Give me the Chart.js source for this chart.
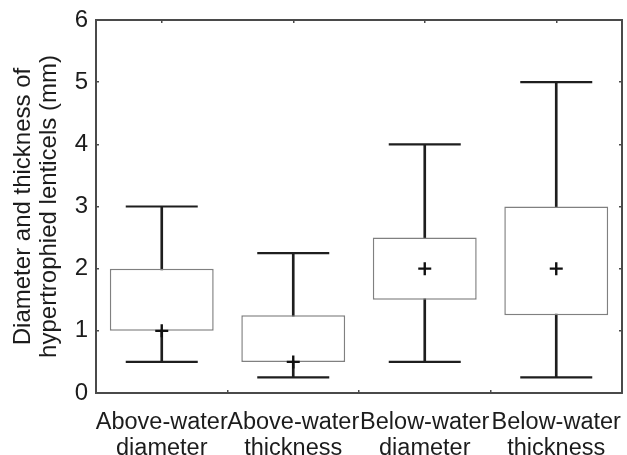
<!DOCTYPE html>
<html>
<head>
<meta charset="utf-8">
<script src="https://cdn.jsdelivr.net/npm/chart.js@4.4.1/dist/chart.umd.min.js"></script>
<style>
  html, body { margin: 0; padding: 0; background: #fff; }
  #wrap { width: 627px; height: 455px; position: relative; }
</style>
</head>
<body>
<div id="wrap"><canvas id="c" width="627" height="455"></canvas></div>
<script>
const categories = [
  ["Above-water", "diameter"],
  ["Above-water", "thickness"],
  ["Below-water", "diameter"],
  ["Below-water", "thickness"]
];
const whiskerMin = [0.5, 0.25, 0.5, 0.25];
const boxLow = [1.0, 0.5, 1.5, 1.25];
const boxHigh = [2.0, 1.25, 2.5, 3.0];
const whiskerMax = [3.0, 2.25, 4.0, 5.0];
const centerMark = [1.0, 0.5, 2.0, 2.0];
const yTicks = [0, 1, 2, 3, 4, 5, 6];
const yTitle = ["Diameter and thickness of", "hypertrophied lenticels (mm)"];

const boxes = boxLow.map((v, i) => [v, boxHigh[i]]);
const whiskers = whiskerMin.map((v, i) => [v, whiskerMax[i]]);

const textColor = '#1c1c1c';
const frameColor = '#4a4a4a';
const fontFam = '"Liberation Sans", Arial, sans-serif';

// Point-only line controller that does not reserve extra layout padding for large markers
class MarkController extends Chart.LineController {
  getMaxOverflow() { return 0; }
}
MarkController.id = 'mark';
MarkController.defaults = Chart.LineController.defaults;
MarkController.overrides = Chart.LineController.overrides;
Chart.register(MarkController);

function fixSize(prop, val) {
  return s => {
    s[prop] = val;
    s.paddingLeft = 0; s.paddingRight = 0; s.paddingTop = 0; s.paddingBottom = 0;
  };
}

new Chart(document.getElementById('c'), {
  data: {
    labels: categories,
    datasets: [
      {
        type: 'bar', data: whiskers, order: 3, grouped: false,
        backgroundColor: '#1e1e1e', borderWidth: 0, barThickness: 2
      },
      {
        type: 'bar', data: boxes, order: 2, grouped: false,
        backgroundColor: '#ffffff', borderColor: '#808080', borderWidth: 1.5,
        borderSkipped: false, barPercentage: 0.79, categoryPercentage: 1
      },
      {
        type: 'mark', data: whiskerMin, order: 1, showLine: false,
        pointStyle: 'line', pointRadius: 36, pointBorderWidth: 2.2,
        pointBorderColor: '#1e1e1e', pointBackgroundColor: '#1e1e1e'
      },
      {
        type: 'mark', data: whiskerMax, order: 1, showLine: false,
        pointStyle: 'line', pointRadius: 36, pointBorderWidth: 2.2,
        pointBorderColor: '#1e1e1e', pointBackgroundColor: '#1e1e1e'
      },
      {
        type: 'mark', data: centerMark, order: 0, showLine: false,
        pointStyle: 'cross', pointRadius: 6.5, pointBorderWidth: 2.4,
        pointBorderColor: '#111', pointBackgroundColor: '#111'
      }
    ]
  },
  options: {
    responsive: false,
    animation: false,
    events: [],
    layout: { padding: 0 },
    plugins: { legend: { display: false }, tooltip: { enabled: false } },
    scales: {
      x: {
        position: 'bottom',
        offset: true,
        grid: { display: true, drawOnChartArea: false, drawTicks: true, tickLength: -3, color: frameColor, lineWidth: 1.5 },
        border: { display: true, color: frameColor, width: 2 },
        ticks: { color: textColor, font: { family: fontFam, size: 23.5, lineHeight: 1.13 }, padding: 19, maxRotation: 0, autoSkip: false },
        afterFit: fixSize('height', 62)
      },
      x2: {
        position: 'top',
        offset: true,
        labels: categories,
        grid: { display: true, drawOnChartArea: false, drawTicks: true, tickLength: -3, color: frameColor, lineWidth: 1.5 },
        border: { display: true, color: frameColor, width: 2 },
        ticks: { display: false },
        afterFit: fixSize('height', 20)
      },
      y: {
        position: 'left',
        min: 0, max: 6,
        afterBuildTicks: s => { s.ticks = yTicks.map(v => ({ value: v })); },
        grid: { display: true, drawOnChartArea: false, drawTicks: true, tickLength: -3, color: frameColor, lineWidth: 1.5 },
        border: { display: true, color: frameColor, width: 2 },
        ticks: { color: textColor, font: { family: fontFam, size: 24 }, padding: 11 },
        title: { display: true, text: yTitle, color: textColor, font: { family: fontFam, size: 24, lineHeight: 1.1 }, padding: { top: 10, bottom: 0 } },
        afterFit: fixSize('width', 96)
      },
      y2: {
        position: 'right',
        min: 0, max: 6,
        afterBuildTicks: s => { s.ticks = yTicks.map(v => ({ value: v })); },
        grid: { display: true, drawOnChartArea: false, drawTicks: true, tickLength: -3, color: frameColor, lineWidth: 1.5 },
        border: { display: true, color: frameColor, width: 2 },
        ticks: { display: false },
        afterFit: fixSize('width', 5)
      }
    }
  }
});
</script>
</body>
</html>
